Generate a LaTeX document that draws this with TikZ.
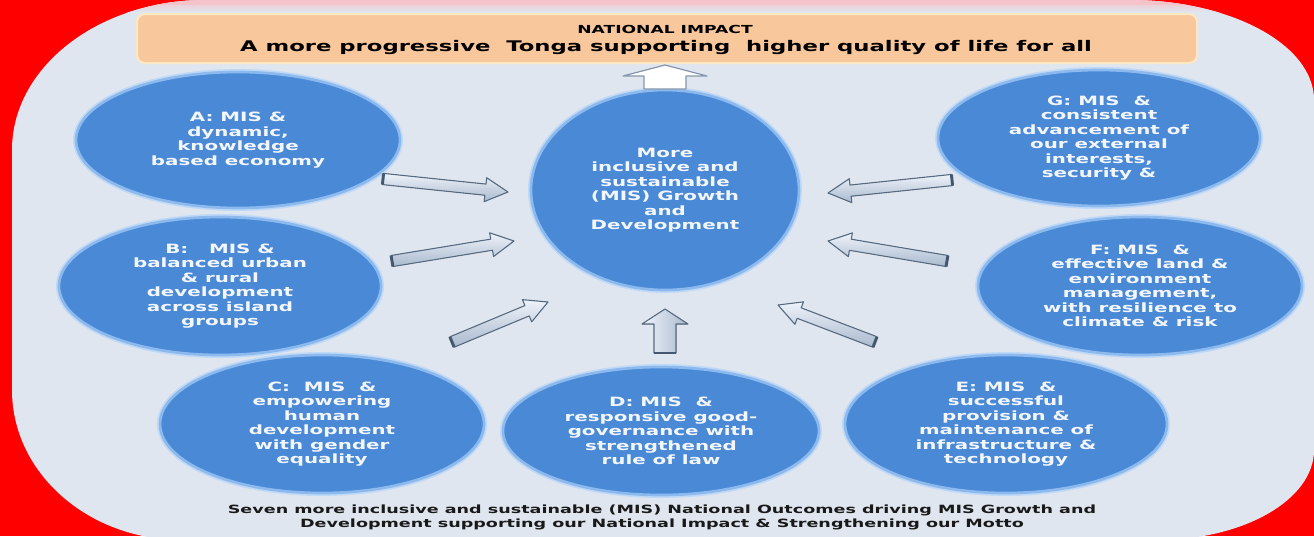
\documentclass[tikz,border=0pt]{standalone}
\usepackage{fontspec}
\newfontfamily\df{DejaVu Sans}[FakeStretch=1.55]
\usetikzlibrary{shapes.geometric,calc}
\definecolor{bgred}{HTML}{FF0000}
\definecolor{panel}{HTML}{DFE6EF}
\definecolor{pinkband}{HTML}{F5C3CA}
\definecolor{peach}{HTML}{F9C79C}
\definecolor{peachedge}{HTML}{FDE8C2}
\definecolor{ellblue}{HTML}{4A89D6}
\definecolor{ellrim}{HTML}{8DBAEE}
\definecolor{elltext}{HTML}{F3F7FD}
\definecolor{arrtop}{HTML}{EEF3FA}
\definecolor{arrbot}{HTML}{A9B9CE}
\definecolor{arredge}{HTML}{56697F}
\definecolor{arrcap}{HTML}{43586F}
\definecolor{whitearr}{HTML}{8596AB}
\newcommand\blockarr[6]{%
  \coordinate (hb) at ($(#3)!#6!(#2)$);
  \filldraw[#1] ($(#2)!#4!90:(#3)$) -- ($(hb)!#4!-90:(#2)$) -- ($(hb)!#5!-90:(#2)$) -- (#3)
     -- ($(hb)!#5!90:(#2)$) -- ($(hb)!#4!90:(#2)$) -- ($(#2)!#4!-90:(#3)$) -- cycle;
}
\begin{document}
\begin{tikzpicture}[x=0.75pt,y=-0.75pt,
  ellnode/.style={ellipse, fill=ellblue, draw=ellrim, line width=2pt,
     preaction={draw=ellrim!55!white, line width=4.5pt},
     inner sep=0pt, text=elltext, align=center,
     font=\df\bfseries\fontsize{9.6}{10.9}\selectfont},
  arrbody/.style={top color=arrtop, bottom color=arrbot, draw=arredge, line width=0.8pt, line join=round},
  arrbodyv/.style={left color=arrtop, right color=arrbot, draw=arredge, line width=0.8pt, line join=round},
  whitebody/.style={fill=white, draw=whitearr, line width=0.9pt, line join=round},
  capline/.style={draw=arrcap, line width=2.2pt}]
\useasboundingbox (0,0) rectangle (1314,536);
\fill[bgred] (0,0) rectangle (1314,536);
% panel
\path[fill=panel] (12,150) arc[start angle=180, end angle=90, x radius=145pt, y radius=112.5pt]
  -- (1129,0) arc[start angle=90, end angle=0, x radius=138.75pt, y radius=75pt]
  -- (1314,450) arc[start angle=0, end angle=-90, x radius=117.75pt, y radius=67.5pt]
  -- (182,540) arc[start angle=-90, end angle=-180, x radius=127.5pt, y radius=112.5pt]
  -- cycle;
\begin{scope}
  \clip (12,150) arc[start angle=180, end angle=90, x radius=145pt, y radius=112.5pt]
  -- (1129,0) arc[start angle=90, end angle=0, x radius=138.75pt, y radius=75pt]
  -- (1314,450) -- (12,450) -- cycle;
  \shade[top color=pinkband, bottom color=panel] (0,0) rectangle (1314,12);
  \fill[pinkband] (0,0) rectangle (1314,5);
\end{scope}
% banner
\node (banner) [draw=peachedge, line width=1.5pt, fill=peach, rounded corners=6pt,
   minimum width=795pt, minimum height=36.75pt, inner sep=0pt] at (667,38.5) {};
\node (nat) at (665,29) {\df\bfseries\fontsize{8.3}{10}\selectfont NATIONAL IMPACT};
\node (title) at (666,48) {\df\bfseries\fontsize{11}{13}\selectfont A more progressive\ \ Tonga supporting\ \ higher quality of life for all};
% ellipses
\node (M) [ellnode, minimum width=201pt, minimum height=150pt] at (665,190)
  {More\\inclusive and\\sustainable\\(MIS) Growth\\and\\Development};
\node (A) [ellnode, minimum width=243pt, minimum height=102pt] at (238,140)
  {A: MIS \&\\dynamic,\\knowledge\\based economy};
\node (B) [ellnode, minimum width=241.5pt, minimum height=103.5pt] at (220,286)
  {B:\ \ \ MIS \&\\balanced urban\\\& rural\\development\\across island\\groups};
\node (C) [ellnode, minimum width=243pt, minimum height=103.5pt] at (322,424)
  {C:\ \ MIS\ \ \&\\empowering\\human\\development\\with gender\\equality};
\node (D) [ellnode, minimum width=237pt, minimum height=96pt] at (661,431)
  {D: MIS\ \ \&\\responsive good-\\governance with\\strengthened\\rule of law};
\node (E) [ellnode, minimum width=241.5pt, minimum height=103.5pt] at (1006,424)
  {E: MIS\ \ \&\\successful\\provision \&\\maintenance of\\infrastructure \&\\technology};
\node (F) [ellnode, minimum width=243pt, minimum height=103.5pt] at (1140,286)
  {F: MIS\ \ \&\\effective land \&\\environment\\management,\\with resilience to\\climate \& risk};
\node (G) [ellnode, minimum width=241.5pt, minimum height=102pt] at (1099,138)
  {G: MIS\ \ \&\\consistent\\advancement of\\our external\\interests,\\security \&};
% bottom caption
\node (cap) [align=center, font=\df\bfseries\fontsize{8.5}{10.5}\selectfont, text=black!90] at (662,517)
  {Seven more inclusive and sustainable (MIS) National Outcomes driving MIS Growth and\\
   Development supporting our National Impact \& Strengthening our Motto};
% arrow end points
\coordinate (aT) at (383,179); \coordinate (aH) at (508,192);
\coordinate (bT) at (392,261); \coordinate (bH) at (514,241);
\coordinate (cT) at (452,342); \coordinate (cH) at (548,302);
\coordinate (dT) at (665,353); \coordinate (dH) at (665,309);
\coordinate (eT) at (875,342); \coordinate (eH) at (778,305);
\coordinate (fT) at (947,261); \coordinate (fH) at (828,241);
\coordinate (gT) at (952,180); \coordinate (gH) at (828,193);
\coordinate (mT) at (665,89);  \coordinate (mH) at (665,65);
\blockarr{arrbody}{aT}{aH}{4.2pt}{9pt}{17pt}
\draw[capline] ($(aT)!4.2pt!90:(aH)$) -- ($(aT)!4.2pt!-90:(aH)$);
\blockarr{arrbody}{bT}{bH}{4.2pt}{9pt}{17pt}
\draw[capline] ($(bT)!4.2pt!90:(bH)$) -- ($(bT)!4.2pt!-90:(bH)$);
\blockarr{arrbody}{cT}{cH}{4.2pt}{9pt}{17pt}
\draw[capline] ($(cT)!4.2pt!90:(cH)$) -- ($(cT)!4.2pt!-90:(cH)$);
\blockarr{arrbodyv}{dT}{dH}{8.25pt}{17.25pt}{11.25pt}
\draw[capline] ($(dT)!8.25pt!90:(dH)$) -- ($(dT)!8.25pt!-90:(dH)$);
\blockarr{arrbody}{eT}{eH}{4.2pt}{9pt}{17pt}
\draw[capline] ($(eT)!4.2pt!90:(eH)$) -- ($(eT)!4.2pt!-90:(eH)$);
\blockarr{arrbody}{fT}{fH}{4.2pt}{9pt}{17pt}
\draw[capline] ($(fT)!4.2pt!90:(fH)$) -- ($(fT)!4.2pt!-90:(fH)$);
\blockarr{arrbody}{gT}{gH}{4.2pt}{9pt}{17pt}
\draw[capline] ($(gT)!4.2pt!90:(gH)$) -- ($(gT)!4.2pt!-90:(gH)$);
\blockarr{whitebody}{mT}{mH}{15.75pt}{31.5pt}{8.25pt}
\end{tikzpicture}
\end{document}
